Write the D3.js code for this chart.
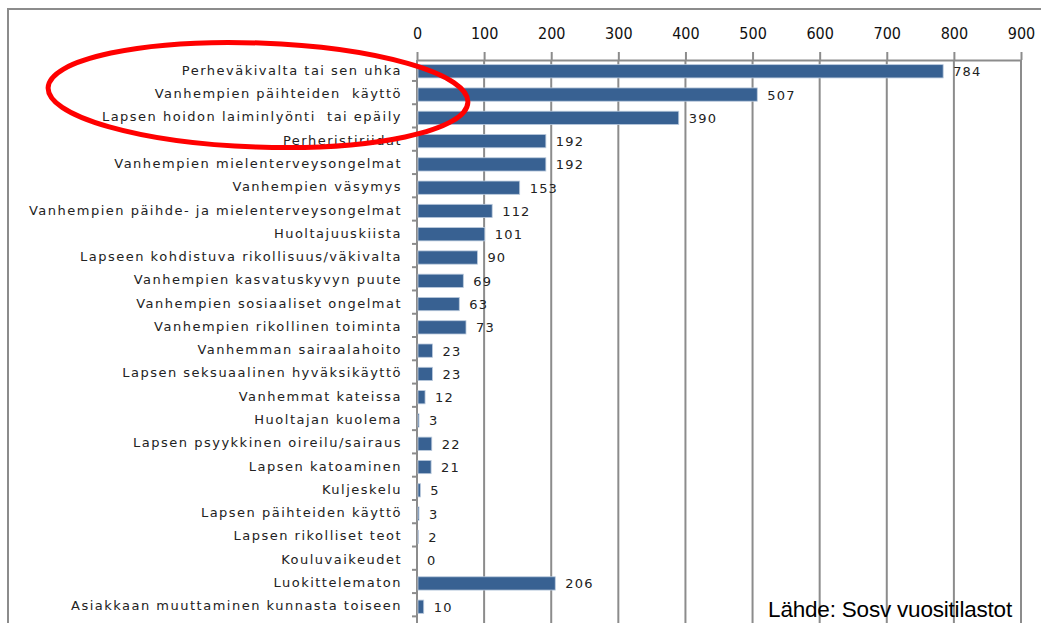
<!DOCTYPE html>
<html lang="fi">
<head>
<meta charset="UTF-8">
<title>Lastensuojelun perusteet</title>
<script src="https://cdn.jsdelivr.net/npm/d3@7"></script>
<style>
  body {margin: 0; background: #fff;}
  svg {display: block;}
</style>
</head>
<body>
<svg id="chart"></svg>
<script>
    // DATA
    const categories = [
        "Perheväkivalta tai sen uhka",
        "Vanhempien päihteiden  käyttö",
        "Lapsen hoidon laiminlyönti  tai epäily",
        "Perheristiriidat",
        "Vanhempien mielenterveysongelmat",
        "Vanhempien väsymys",
        "Vanhempien päihde- ja mielenterveysongelmat",
        "Huoltajuuskiista",
        "Lapseen kohdistuva rikollisuus/väkivalta",
        "Vanhempien kasvatuskyvyn puute",
        "Vanhempien sosiaaliset ongelmat",
        "Vanhempien rikollinen toiminta",
        "Vanhemman sairaalahoito",
        "Lapsen seksuaalinen hyväksikäyttö",
        "Vanhemmat kateissa",
        "Huoltajan kuolema",
        "Lapsen psyykkinen oireilu/sairaus",
        "Lapsen katoaminen",
        "Kuljeskelu",
        "Lapsen päihteiden käyttö",
        "Lapsen rikolliset teot",
        "Kouluvaikeudet",
        "Luokittelematon",
        "Asiakkaan muuttaminen kunnasta toiseen"
    ];
    const values = [784, 507, 390, 192, 192, 153, 112, 101, 90, 69, 63, 73,
                    23, 23, 12, 3, 22, 21, 5, 3, 2, 0, 206, 10];
    const ticks = [0, 100, 200, 300, 400, 500, 600, 700, 800, 900];
    const source = "Lähde: Sosv vuositilastot";

    const data = categories.map((c, i) => ({name: c, value: values[i]}));

    // Dimensions
    const W = 1041, H = 623;
    const plot = {left: 417, right: 1021, top: 60, bottom: 618};
    const grey = "#8c8c8c";

    const svg = d3.select("#chart").attr("width", W).attr("height", H);

    // outer frame of the original chart area
    svg.append("rect")
       .attr("x", 8).attr("y", 9).attr("width", W + 10).attr("height", H + 10)
       .attr("fill", "none").attr("stroke", grey).attr("stroke-width", 2);

    const x = d3.scaleLinear().domain([0, 900]).range([plot.left, plot.right]);
    const y = d3.scaleBand().domain(categories).range([plot.top, plot.bottom]).paddingInner(0.43).paddingOuter(0.2);

    // gridlines
    svg.append("g").selectAll("line")
       .data(ticks.slice(1))
       .join("line")
         .attr("x1", d => x(d)).attr("x2", d => x(d))
         .attr("y1", plot.top).attr("y2", H)
         .attr("stroke", grey).attr("stroke-width", 2);

    // top axis
    const axisTop = svg.append("g").attr("transform", `translate(0, ${plot.top})`)
        .call(d3.axisTop(x).tickValues(ticks).tickSize(8).tickSizeOuter(0).tickPadding(13));
    axisTop.select(".domain").attr("stroke", grey).attr("stroke-width", 2);
    axisTop.selectAll(".tick line").attr("stroke", grey).attr("stroke-width", 2);
    axisTop.selectAll(".tick text")
           .attr("fill", "#111")
           .style("font-family", "'Liberation Sans Narrow', 'DejaVu Sans Condensed', sans-serif")
           .style("font-size", "16px");

    // left axis with category labels
    const step = y.step();
    const boundaries = d3.range(categories.length + 1).map(i => plot.top + i * step - step * 0.1);
    svg.append("line")
       .attr("x1", plot.left).attr("x2", plot.left)
       .attr("y1", plot.top).attr("y2", H)
       .attr("stroke", grey).attr("stroke-width", 2);
    svg.append("g").selectAll("line")
       .data(boundaries.slice(1))
       .join("line")
         .attr("x1", plot.left - 5).attr("x2", plot.left)
         .attr("y1", d => d).attr("y2", d => d)
         .attr("stroke", grey).attr("stroke-width", 2);

    svg.append("g").selectAll("text")
       .data(data)
       .join("text")
         .attr("x", 402)
         .attr("y", d => y(d.name) + y.bandwidth() / 2 - 1)
         .attr("dy", "0.35em")
         .attr("text-anchor", "end")
         .attr("fill", "#222")
         .style("font-family", "'DejaVu Sans', Verdana, sans-serif")
         .style("font-size", "13px")
         .style("letter-spacing", "1.5px")
         .style("white-space", "pre")
         .text(d => d.name);

    // bars
    svg.append("g").selectAll("rect")
       .data(data)
       .join("rect")
         .attr("x", x(0) + 1)
         .attr("y", d => y(d.name))
         .attr("width", d => Math.max(0, x(d.value) - x(0) - 1))
         .attr("height", y.bandwidth())
         .attr("fill", "#386192")
         .attr("stroke", "#b9c9dc")
         .attr("stroke-width", 0.8);

    // value labels
    svg.append("g").selectAll("text")
       .data(data)
       .join("text")
         .attr("x", d => x(d.value) + 10)
         .attr("y", d => y(d.name) + y.bandwidth() / 2)
         .attr("dy", "0.38em")
         .attr("fill", "#222")
         .style("font-family", "'DejaVu Sans', Verdana, sans-serif")
         .style("font-size", "13px")
         .style("letter-spacing", "1.2px")
         .text(d => d.value);

    // red hand-drawn ellipse annotation
    svg.append("ellipse")
       .attr("cx", 258).attr("cy", 95).attr("rx", 210).attr("ry", 52)
       .attr("transform", "rotate(2 258 95)")
       .attr("fill", "none").attr("stroke", "#ff0000").attr("stroke-width", 5);

    // source note
    svg.append("text")
       .attr("x", 1012).attr("y", 617)
       .attr("text-anchor", "end")
       .attr("fill", "#000")
       .style("font-family", "'Liberation Sans', Arial, sans-serif")
       .style("font-size", "22.5px")
       .style("letter-spacing", "-0.2px")
       .text(source);
</script>
</body>
</html>
